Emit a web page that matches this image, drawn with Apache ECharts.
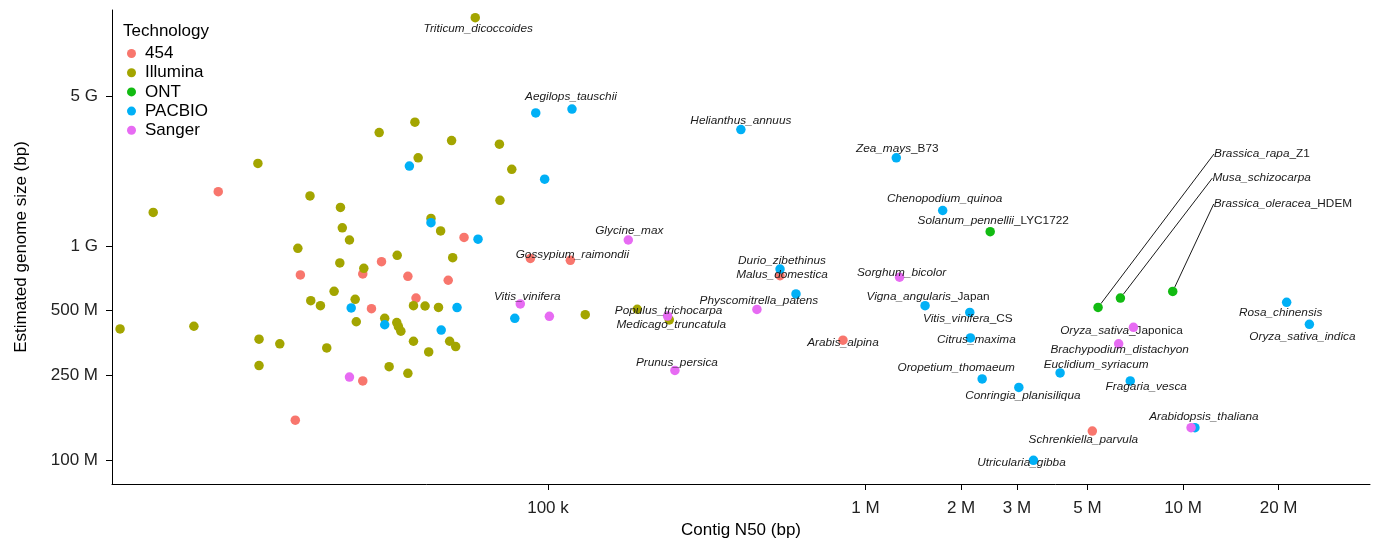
<!DOCTYPE html>
<html>
<head>
<meta charset="utf-8">
<script src="https://cdn.jsdelivr.net/npm/echarts@6/dist/echarts.min.js"></script>
<style>
  html, body { margin: 0; padding: 0; background: #fff; }
  #chart { width: 1375px; height: 543px; }
</style>
</head>
<body>
<div id="chart"></div>
<script>
// technologies and their legend colours
const technologies = ['454', 'Illumina', 'ONT', 'PACBIO', 'Sanger'];
const techColors = ['#F8766D', '#A3A500', '#12BB12', '#00B0F6', '#E76BF3'];

// [contig N50 (bp), estimated genome size (bp), species label or '']
const pts454 = [
  [9150, 1.80e9, ''], [16000, 154e6, ''], [16600, 735e6, ''], [26100, 743e6, ''],
  [26100, 235e6, ''], [27800, 511e6, ''], [29900, 847e6, ''], [36200, 724e6, ''],
  [38400, 573e6, ''], [48500, 694e6, ''], [54400, 1.10e9, ''], [88000, 877e6, ''],
  [117600, 860e6, 'Gossypium_raimondii'], [538000, 729e6, 'Malus_domestica'],
  [849000, 364e6, 'Arabis_alpina'], [5.18e6, 137e6, 'Schrenkiella_parvula']
];
const ptsIllumina = [
  [4490, 411e6, ''], [7670, 423e6, ''], [5710, 1.44e9, ''], [12200, 2.44e9, ''],
  [12300, 368e6, ''], [12300, 277e6, ''], [14300, 350e6, ''], [16300, 979e6, ''],
  [17800, 1.72e9, ''], [17900, 557e6, ''], [19200, 528e6, ''], [20100, 335e6, ''],
  [21200, 616e6, ''], [22100, 836e6, ''], [22200, 1.52e9, ''], [22500, 1.22e9, ''],
  [23700, 1.07e9, ''], [24700, 565e6, ''], [24900, 444e6, ''], [26300, 789e6, ''],
  [29400, 3.40e9, ''], [30600, 461e6, ''], [31600, 274e6, ''], [33400, 440e6, ''],
  [33500, 908e6, ''], [33800, 421e6, ''], [34400, 401e6, ''], [36200, 255e6, ''],
  [37700, 528e6, ''], [37700, 360e6, ''], [38100, 3.80e9, ''], [39000, 2.59e9, ''],
  [41000, 526e6, ''], [42100, 321e6, ''], [42800, 1.35e9, ''], [45200, 518e6, ''],
  [45900, 1.18e9, ''], [49000, 360e6, ''], [49700, 3.12e9, ''], [50100, 885e6, ''],
  [51200, 340e6, ''], [59000, 11.7e9, 'Triticum_dicoccoides'], [70300, 3.00e9, ''],
  [70600, 1.64e9, ''], [76900, 2.29e9, ''], [131000, 479e6, ''], [191000, 508e6, ''],
  [241000, 453e6, 'Medicago_truncatula']
];
const ptsONT = [
  [2.47e6, 1.17e9, 'Solanum_pennellii_LYC1722'], [5.40e6, 518e6, 'Brassica_rapa_Z1'],
  [6.35e6, 573e6, 'Musa_schizocarpa'], [9.28e6, 615e6, 'Brassica_oleracea_HDEM']
];
const ptsPacbio = [
  [24000, 515e6, ''], [30600, 430e6, ''], [36600, 2.37e9, ''], [42800, 1.29e9, ''],
  [46100, 406e6, ''], [51700, 517e6, ''], [60200, 1.08e9, ''], [78600, 461e6, ''],
  [91500, 4.20e9, ''], [97600, 2.06e9, ''], [119000, 4.38e9, 'Aegilops_tauschii'],
  [405000, 3.51e9, 'Helianthus_annuus'], [538000, 783e6, 'Durio_zibethinus'],
  [604000, 599e6, ''], [1.25e6, 2.59e9, 'Zea_mays_B73'], [1.54e6, 528e6, 'Vigna_angularis_Japan'],
  [1.75e6, 1.47e9, 'Chenopodium_quinoa'], [2.13e6, 491e6, 'Vitis_vinifera_CS'],
  [2.14e6, 373e6, 'Citrus_maxima'], [2.33e6, 240e6, 'Oropetium_thomaeum'],
  [3.04e6, 219e6, 'Conringia_planisiliqua'], [3.38e6, 100e6, 'Utricularia_gibba'],
  [4.10e6, 256e6, 'Euclidium_syriacum'], [6.82e6, 235e6, 'Fragaria_vesca'],
  [10.9e6, 142e6, 'Arabidopsis_thaliana'], [21.2e6, 547e6, 'Rosa_chinensis'],
  [25.0e6, 432e6, 'Oryza_sativa_indica']
];
const ptsSanger = [
  [23700, 245e6, ''], [81800, 538e6, 'Vitis_vinifera'], [101000, 471e6, ''],
  [179000, 1.07e9, 'Glycine_max'], [238000, 472e6, 'Populus_trichocarpa'],
  [251000, 263e6, 'Prunus_persica'], [455000, 507e6, 'Physcomitrella_patens'],
  [1.28e6, 717e6, 'Sorghum_bicolor'], [10.6e6, 142e6, ''],
  [6.27e6, 350e6, 'Brachypodium_distachyon'], [6.98e6, 418e6, 'Oryza_sativa_Japonica']
];
const pointsByTech = [pts454, ptsIllumina, ptsONT, ptsPacbio, ptsSanger];

// axis ticks
const xTicks = [1e5, 1e6, 2e6, 3e6, 5e6, 1e7, 2e7];
const xTickLabels = ['100 k', '1 M', '2 M', '3 M', '5 M', '10 M', '20 M'];
const yTicks = [1e8, 2.5e8, 5e8, 1e9, 5e9];
const yTickLabels = ['100 M', '250 M', '500 M', '1 G', '5 G'];
const xRange = [4235, 3.88e7];
const yRange = [77.5e6, 12.71e9];

// label placement (pixel shift from the point), leader-line labels are left aligned
const labelShift = {
  Triticum_dicoccoides: [3, 11], Aegilops_tauschii: [-1, -12], Helianthus_annuus: [0, -9],
  Zea_mays_B73: [1, -9], Chenopodium_quinoa: [2, -12], Solanum_pennellii_LYC1722: [3, -11],
  Durio_zibethinus: [2, -8], Malus_domestica: [2, -1], Sorghum_bicolor: [2, -5],
  Glycine_max: [1, -9], Gossypium_raimondii: [2, -6], Vitis_vinifera: [7, -7],
  Populus_trichocarpa: [1, -5], Medicago_truncatula: [2, 5], Physcomitrella_patens: [2, -9],
  Prunus_persica: [2, -8], Arabis_alpina: [0, 2], Vigna_angularis_Japan: [3, -9],
  Vitis_vinifera_CS: [-2, 6], Citrus_maxima: [6, 2], Oropetium_thomaeum: [-26, -11],
  Conringia_planisiliqua: [4, 8], Euclidium_syriacum: [36, -8], Fragaria_vesca: [16, 6],
  Utricularia_gibba: [-12, 2], Schrenkiella_parvula: [-9, 9], Oryza_sativa_Japonica: [-12, 3],
  Brachypodium_distachyon: [1, 6], Rosa_chinensis: [-6, 10], Oryza_sativa_indica: [-7, 12],
  Arabidopsis_thaliana: [9, -11]
};
const leaderShift = {
  Brassica_rapa_Z1: [116, -153.5], Musa_schizocarpa: [92, -120], Brassica_oleracea_HDEM: [41, -87.5]
};

const log10 = Math.log10;

function nearestLabel(v, ticks, labels) {
  let best = 0;
  ticks.forEach(function (t, i) {
    if (Math.abs(log10(t) - v) < Math.abs(log10(ticks[best]) - v)) best = i;
  });
  return labels[best];
}

// species italic, strain / cultivar suffix upright
function speciesText(name) {
  const parts = name.split('_');
  if (parts.length > 2 && /^[A-Z0-9]/.test(parts[2])) {
    return '{i|' + parts.slice(0, 2).join('_') + '}{n|_' + parts.slice(2).join('_') + '}';
  }
  return '{i|' + name + '}';
}

const labelFont = { fontSize: 11.8, fontFamily: 'Liberation Sans', color: '#1a1a1a' };

const series = technologies.map(function (tech, ti) {
  const pts = pointsByTech[ti];
  return {
    name: tech,
    type: 'scatter',
    symbolSize: 9.5,
    itemStyle: { color: techColors[ti], opacity: 1 },
    label: {
      show: false,
      position: 'inside',
      formatter: function (p) { return speciesText(p.name); },
      rich: {
        i: Object.assign({ fontStyle: 'italic' }, labelFont),
        n: Object.assign({ fontStyle: 'normal' }, labelFont)
      }
    },
    labelLine: { show: false },
    labelLayout: function (p) {
      const name = pts[p.dataIndex][2];
      if (leaderShift[name]) {
        return { dx: leaderShift[name][0], dy: leaderShift[name][1], align: 'left' };
      }
      const s = labelShift[name] || [0, 0];
      return { dx: s[0], dy: s[1] };
    },
    data: pts.map(function (p) {
      const item = { value: [log10(p[0]), log10(p[1])], name: p[2], label: { show: p[2] !== '' } };
      if (leaderShift[p[2]]) {
        item.labelLine = { show: true, lineStyle: { color: '#000', width: 0.9 } };
      }
      return item;
    })
  };
});

const axisText = { fontSize: 17, fontFamily: 'Liberation Sans', color: '#222' };

const chart = echarts.init(document.getElementById('chart'));
chart.setOption({
  animation: false,
  backgroundColor: '#fff',
  title: {
    text: 'Technology',
    left: 123, top: 23, padding: 0,
    textStyle: { fontSize: 17, fontWeight: 'normal', fontFamily: 'Liberation Sans', color: '#000' }
  },
  legend: {
    data: technologies,
    orient: 'vertical',
    left: 127, top: 45, padding: 0,
    icon: 'circle',
    itemWidth: 9, itemHeight: 9, itemGap: 2.2,
    textStyle: { fontSize: 17, fontFamily: 'Liberation Sans', color: '#000', padding: [0, 0, 0, 4] }
  },
  grid: { left: 112, right: 5, top: 10, bottom: 59, containLabel: false, outerBoundsMode: 'none' },
  xAxis: {
    type: 'value',
    min: log10(xRange[0]), max: log10(xRange[1]),
    name: 'Contig N50 (bp)', nameLocation: 'middle', nameGap: 38,
    nameTextStyle: { fontSize: 17, fontFamily: 'Liberation Sans', color: '#000' },
    axisLine: { show: true, onZero: false, lineStyle: { color: '#000', width: 1 } },
    axisTick: { show: true, customValues: xTicks.map(log10), length: 6, lineStyle: { color: '#000' } },
    axisLabel: Object.assign({
      customValues: xTicks.map(log10), margin: 16,
      formatter: function (v) { return nearestLabel(v, xTicks, xTickLabels); }
    }, axisText),
    splitLine: { show: false }
  },
  yAxis: {
    type: 'value',
    min: log10(yRange[0]), max: log10(yRange[1]),
    name: 'Estimated genome size (bp)', nameLocation: 'middle', nameGap: 82,
    nameTextStyle: { fontSize: 17, fontFamily: 'Liberation Sans', color: '#000' },
    axisLine: { show: true, onZero: false, lineStyle: { color: '#000', width: 1 } },
    axisTick: { show: true, customValues: yTicks.map(log10), length: 6, lineStyle: { color: '#000' } },
    axisLabel: Object.assign({
      customValues: yTicks.map(log10), margin: 14,
      formatter: function (v) { return nearestLabel(v, yTicks, yTickLabels); }
    }, axisText),
    splitLine: { show: false }
  },
  series: series
});
</script>
</body>
</html>
